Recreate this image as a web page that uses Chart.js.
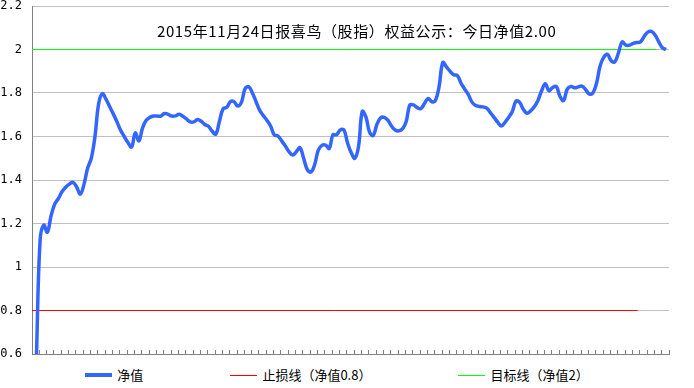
<!DOCTYPE html>
<html>
<head>
<meta charset="utf-8">
<script src="https://cdn.jsdelivr.net/npm/chart.js@4"></script>
<style>
  body { margin: 0; background: #fff; }
  #wrap { position: relative; width: 694px; height: 388px; }
  #title {
    position: absolute; left: 157px; top: 20px; line-height: 20px;
    font: 15px 'Noto Sans CJK SC', sans-serif; letter-spacing: 0.6px; color: #000;
    white-space: nowrap;
  }
  #legend {
    position: absolute; left: 0; top: 358px; width: 674px; height: 34px;
    background: #fff; display: flex; justify-content: center; align-items: center; gap: 87px;
    font: 13px 'Noto Sans CJK SC', sans-serif; color: #000;
  }
  #legend .item { display: flex; align-items: center; height: 18px; line-height: 18px; white-space: nowrap; }
  #legend .swatch { display: block; width: 27px; margin-right: 5px; }
</style>
</head>
<body>
<div id="wrap">
  <canvas id="chart"></canvas>
  <div id="title">2015年11月24日报喜鸟（股指）权益公示：今日净值2.00</div>
  <div id="legend"></div>
</div>
<script>
// 每日净值
const netValues = [0.58, 1.12, 1.193, 1.16, 1.235, 1.289, 1.315, 1.346, 1.367, 1.381,
  1.389, 1.368, 1.335, 1.38, 1.455, 1.50, 1.60, 1.75, 1.797, 1.772,
  1.738, 1.704, 1.668, 1.629, 1.60, 1.572, 1.552, 1.616, 1.58, 1.64,
  1.675, 1.688, 1.694, 1.694, 1.694, 1.706, 1.702, 1.694, 1.695, 1.702,
  1.693, 1.681, 1.667, 1.667, 1.678, 1.67, 1.655, 1.647, 1.625, 1.611,
  1.67, 1.727, 1.734, 1.76, 1.76, 1.74, 1.757, 1.82, 1.829, 1.80,
  1.76, 1.72, 1.696, 1.674, 1.647, 1.607, 1.602, 1.58, 1.556, 1.53,
  1.515, 1.53, 1.548, 1.50, 1.448, 1.437, 1.47, 1.537, 1.559, 1.56,
  1.545, 1.608, 1.608, 1.63, 1.63, 1.57, 1.525, 1.50, 1.555, 1.715,
  1.69, 1.62, 1.605, 1.655, 1.685, 1.688, 1.675, 1.648, 1.63, 1.626,
  1.635, 1.668, 1.745, 1.745, 1.733, 1.728, 1.752, 1.775, 1.76, 1.765,
  1.83, 1.94, 1.92, 1.90, 1.884, 1.88, 1.845, 1.818, 1.792, 1.758,
  1.742, 1.738, 1.736, 1.73, 1.71, 1.688, 1.666, 1.648, 1.665, 1.688,
  1.715, 1.763, 1.757, 1.725, 1.707, 1.718, 1.737, 1.766, 1.81, 1.843,
  1.81, 1.825, 1.83, 1.785, 1.765, 1.818, 1.83, 1.824, 1.828, 1.832,
  1.816, 1.796, 1.80, 1.845, 1.925, 1.965, 1.978, 1.948, 1.943, 1.985,
  2.035, 2.02, 2.02, 2.028, 2.032, 2.035, 2.06, 2.08, 2.083, 2.067,
  2.035, 2.008, 2.00];
const days = netValues.map((v, i) => i);

// 止损线 / 目标线
const stopValues = [0.8, 0.8];
const stopDays = [-1.2, 164.2];
const targetValues = [2, 2];
const targetDays = [-1.2, 169.4];

const yTicks = [0.6, 0.8, 1.0, 1.2, 1.4, 1.6, 1.8, 2.0, 2.2];

const toPoints = (xs, ys) => xs.map((x, i) => ({x: x, y: ys[i]}));

const chart = new Chart(document.getElementById('chart'), {
  type: 'line',
  data: {
    datasets: [{
      label: '净值',
      data: toPoints(days, netValues),
      borderColor: '#3366ff',
      backgroundColor: '#3366ff',
      borderWidth: 3.5,
      pointRadius: 0,
      tension: 0.4
    }, {
      label: '止损线（净值0.8）',
      data: toPoints(stopDays, stopValues),
      borderColor: '#ff0000',
      backgroundColor: '#ff0000',
      borderWidth: 1,
      pointRadius: 0
    }, {
      label: '目标线（净值2）',
      data: toPoints(targetDays, targetValues),
      borderColor: '#00ff00',
      backgroundColor: '#00ff00',
      borderWidth: 1,
      pointRadius: 0
    }]
  },
  options: {
    responsive: true,
    maintainAspectRatio: false,
    animation: false,
    layout: { padding: { left: 0, top: 6, right: 25, bottom: 34 } },
    plugins: {
      legend: { display: false },
      tooltip: { enabled: false }
    },
    scales: {
      x: {
        type: 'linear',
        min: -1.2,
        max: 172.8,
        afterBuildTicks: (s) => {
          const t = [];
          for (let v = s.min; v <= s.max + 1e-6; v += 2) t.push({value: v});
          s.ticks = t;
        },
        afterFit: (s) => { s.height = 0; s.paddingLeft = 0; s.paddingRight = 0; },
        ticks: { display: false },
        grid: { drawOnChartArea: false, drawTicks: true, tickLength: -4, color: '#808080' },
        border: { color: '#808080' }
      },
      y: {
        min: 0.6,
        max: 2.2,
        afterBuildTicks: (s) => { s.ticks = yTicks.map(v => ({value: v})); },
        afterFit: (s) => { s.width = 32; s.paddingTop = 0; s.paddingBottom = 0; },
        ticks: {
          padding: 10,
          color: '#000',
          font: { family: 'DejaVu Sans Mono', size: 12 },
          callback: (v) => String(+Number(v).toFixed(1))
        },
        grid: { color: '#c0c0c0', drawTicks: false },
        border: { color: '#808080' }
      }
    }
  }
});

// 图例
const legendBox = document.getElementById('legend');
chart.data.datasets.forEach(ds => {
  const el = document.createElement('div');
  el.className = 'item';
  const sw = document.createElement('span');
  sw.className = 'swatch';
  sw.style.height = Math.round(ds.borderWidth) + 'px';
  sw.style.background = ds.borderColor;
  el.appendChild(sw);
  el.appendChild(document.createTextNode(ds.label));
  legendBox.appendChild(el);
});
</script>
</body>
</html>
